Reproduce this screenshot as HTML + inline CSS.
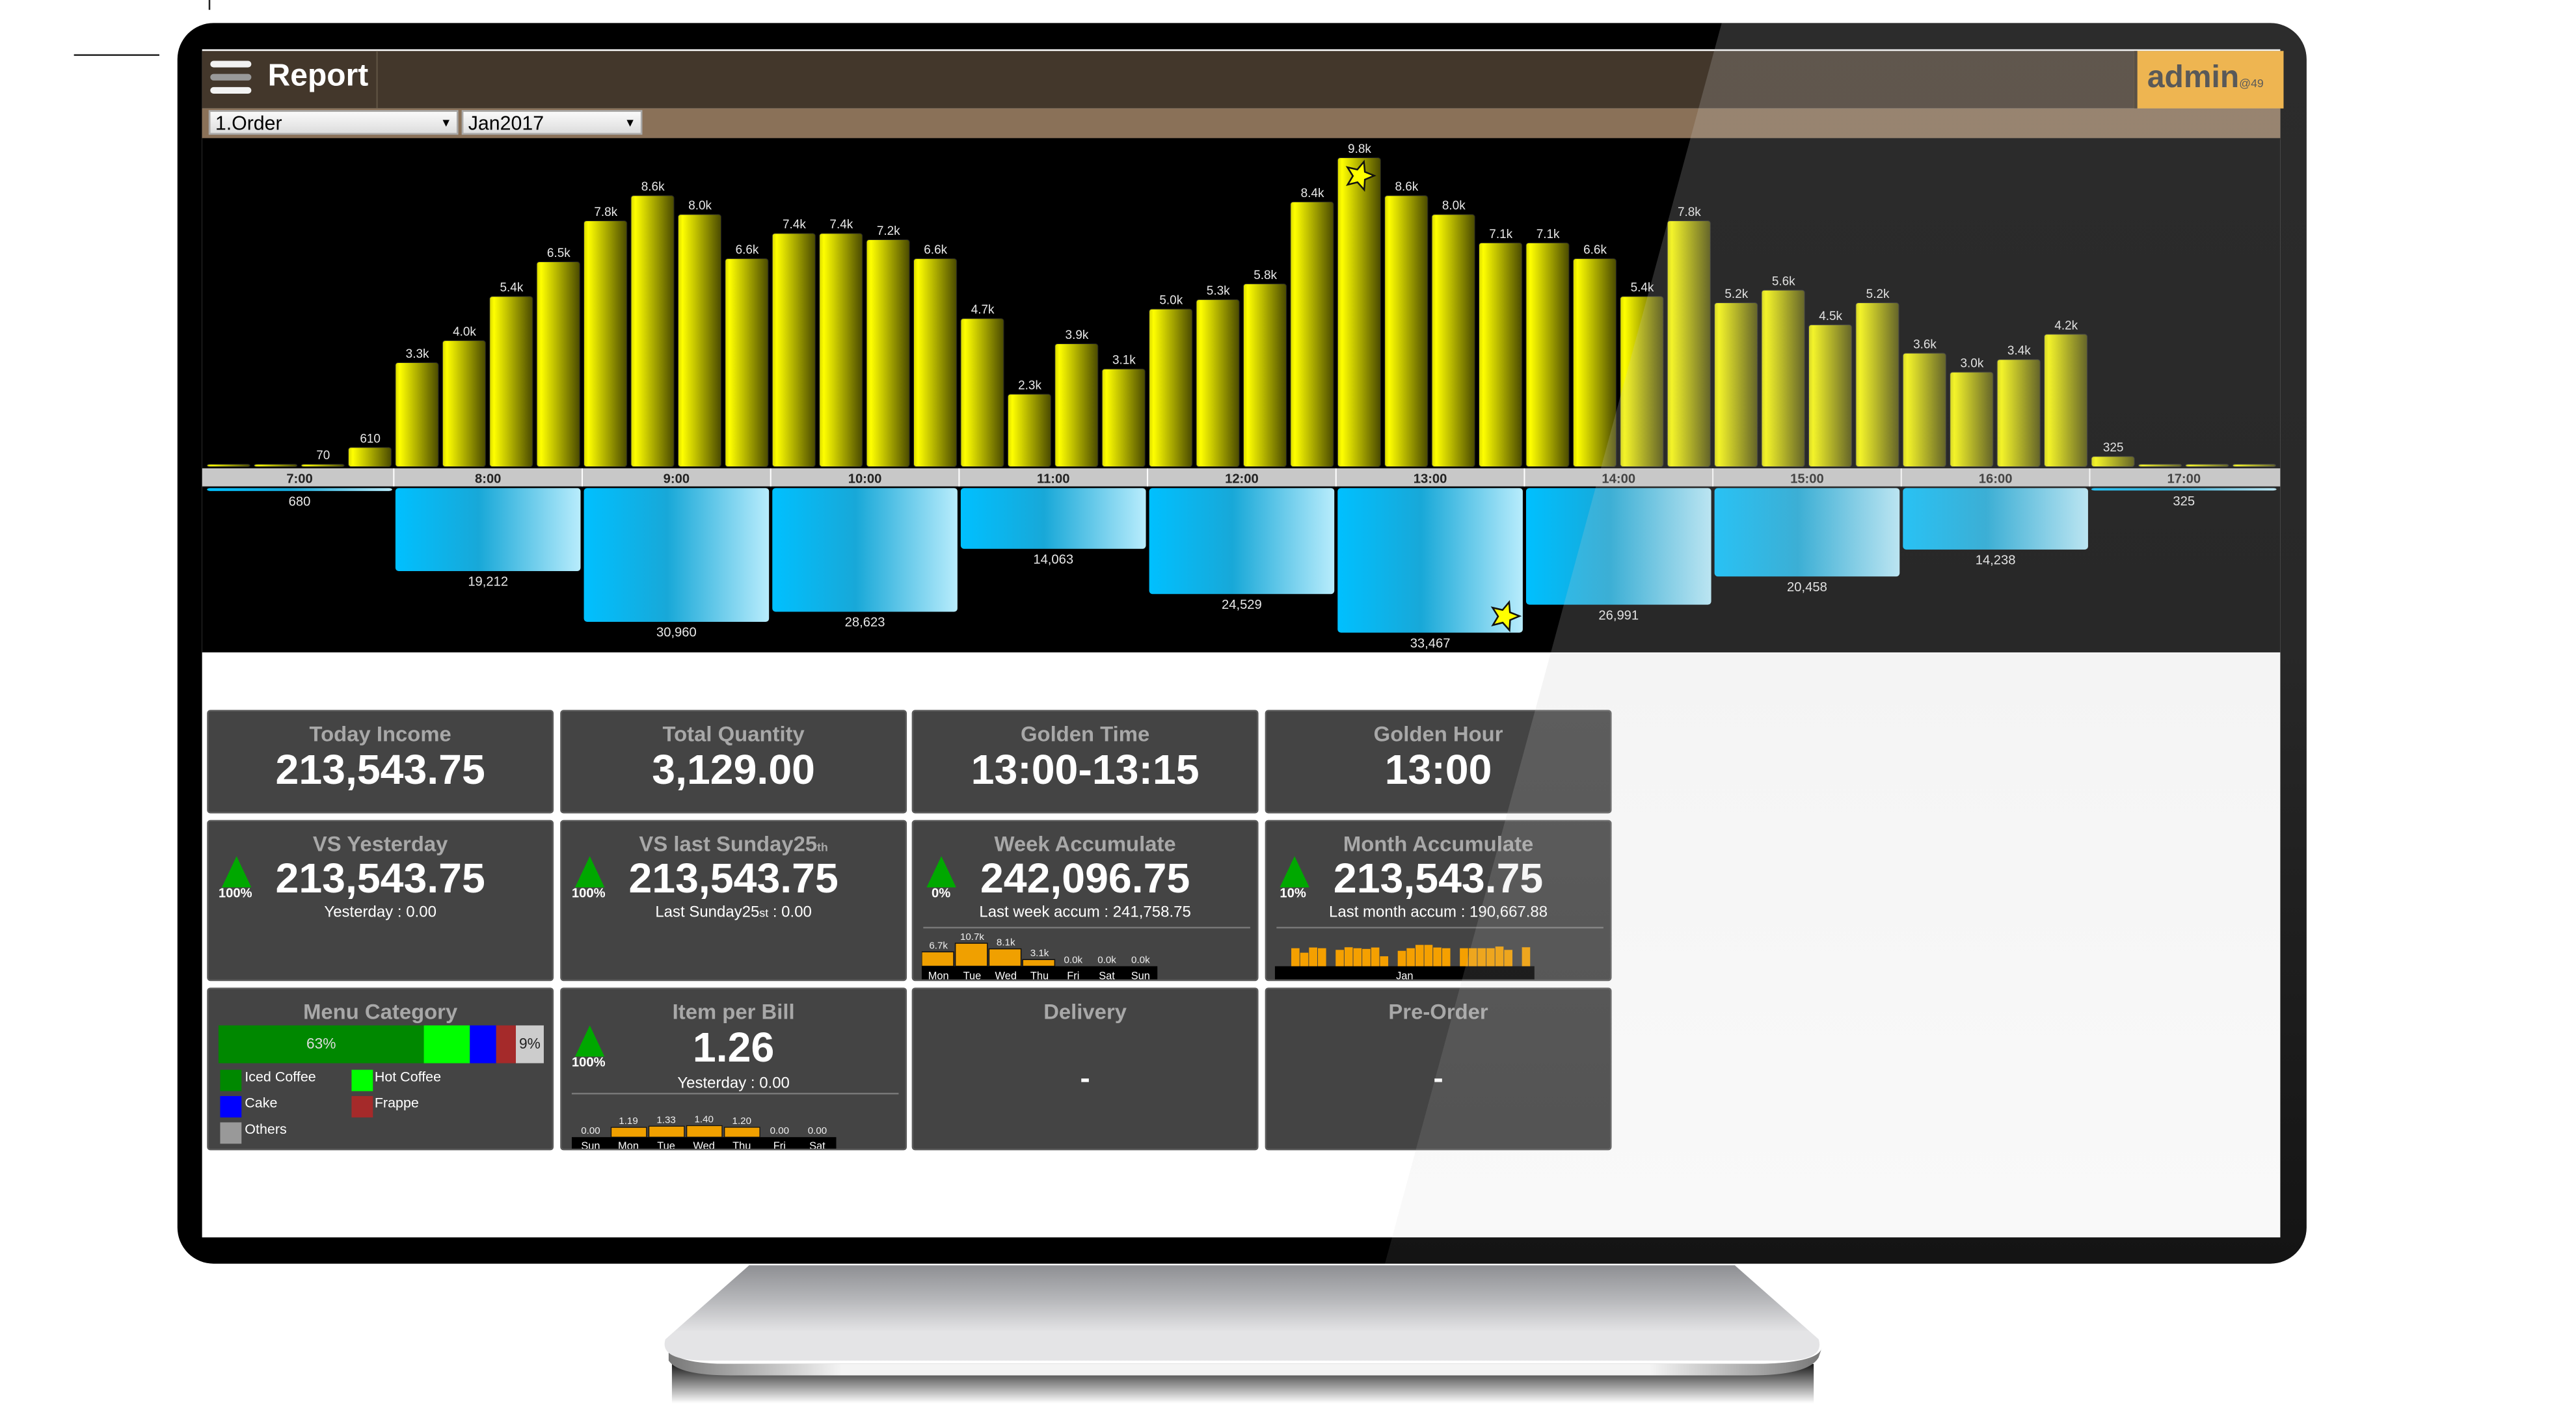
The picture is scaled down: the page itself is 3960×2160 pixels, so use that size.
<!DOCTYPE html>
<html><head><meta charset="utf-8">
<style>
html,body{margin:0;padding:0;background:#fff;width:3960px;height:2160px;overflow:hidden}
#root{position:absolute;left:0;top:0;width:1568px;height:855px;transform:scale(2.52551,2.52632);transform-origin:0 0;font-family:"Liberation Sans",Arial,sans-serif}
.abs{position:absolute}
.card{position:absolute;background:#444;border:1px solid #5a5a5a;border-radius:2px;box-sizing:border-box;color:#fff;text-align:center;overflow:hidden}
.ct{font-weight:bold;color:#a8a8a8;font-size:13px;position:absolute;left:0;right:0}
.cv{font-weight:bold;color:#fff;font-size:25.5px;position:absolute;left:0;right:0}
.tri{position:absolute;width:0;height:0;border-left:9px solid transparent;border-right:9px solid transparent;border-bottom:19px solid #00a800}
.pct{position:absolute;font-size:8px;font-weight:bold;color:#fff}
.sub{position:absolute;left:0;right:0;font-size:9.5px;color:#fff}
.hr{position:absolute;height:1px;background:#777}
</style></head><body>
<div id="root">
  <div class="abs" style="left:45px;top:33px;width:52px;height:1px;background:#222"></div>
  <div class="abs" style="left:127px;top:0;width:1px;height:6px;background:#222"></div>

  <!-- stand -->
  <svg class="abs" style="left:395px;top:760px" width="725" height="95">
    <defs>
      <linearGradient id="sg" x1="0" y1="0" x2="0" y2="1"><stop offset="0" stop-color="#8e8f93"/><stop offset="0.35" stop-color="#b5b6b9"/><stop offset="0.7" stop-color="#e4e4e6"/><stop offset="1" stop-color="#e4e4e6"/></linearGradient>
      <linearGradient id="se" x1="0" y1="0" x2="1" y2="0"><stop offset="0" stop-color="#777"/><stop offset="0.15" stop-color="#f4f4f4"/><stop offset="0.85" stop-color="#f4f4f4"/><stop offset="1" stop-color="#777"/></linearGradient>
      <linearGradient id="sh" x1="0" y1="0" x2="0" y2="1"><stop offset="0" stop-color="#000" stop-opacity="0.9"/><stop offset="1" stop-color="#000" stop-opacity="0"/></linearGradient>
    </defs>
    <rect x="14" y="70" width="695" height="24" fill="url(#sh)"/>
    <path d="M12,60 Q14,70 50,70 L670,70 Q712,70 714,60 L712,66 Q706,77 670,77 L50,77 Q18,77 12,68 Z" fill="url(#se)"/>
    <path d="M61,10 L661,10 L712,55 Q716,68 690,68 L35,68 Q6,68 10,55 Z" fill="url(#sg)"/>
  </svg>

  <!-- bezel -->
  <div class="abs" style="left:108px;top:14px;width:1296px;height:755px;background:#000;border-radius:22px;overflow:hidden">
    <div class="abs" style="left:15px;top:16px;width:1265px;height:723px;background:#fff">
      <!-- header -->
      <div class="abs" style="left:0;top:1px;width:1265px;height:35px;background:#43372b">
        <div class="abs" style="left:5px;top:6px;width:25px;height:4px;background:#f2f2f2;border-radius:2px"></div>
        <div class="abs" style="left:5px;top:14px;width:25px;height:4px;background:#999;border-radius:2px"></div>
        <div class="abs" style="left:5px;top:22px;width:25px;height:4px;background:#f2f2f2;border-radius:2px"></div>
        <div class="abs" style="left:40px;top:5px;font-size:19px;font-weight:bold;color:#fff">Report</div>
        <div class="abs" style="left:106px;top:0;width:1px;height:35px;background:#5c5040"></div>
        <div class="abs" style="left:1176px;top:0;width:89px;height:35px;background:#f8b030;border-left:2px solid #3a2e22"><span style="position:absolute;left:6px;top:6px;font-size:19px;font-weight:bold;color:#3a3a3a">admin<span style="font-size:7px;font-weight:normal">@49</span></span></div>
      </div>
      <div class="abs" style="left:0;top:36px;width:1265px;height:19px;background:#8a7158">
        <div class="abs" style="left:4px;top:1px;height:15px;background:linear-gradient(#fafafa,#ddd);border:1px solid #aaa;font-size:12px;line-height:15px;padding-left:3px;box-sizing:border-box;width:152px">1.Order<span style="position:absolute;right:3px;font-size:7px">▼</span></div>
        <div class="abs" style="left:158px;top:1px;width:110px;height:15px;background:linear-gradient(#fafafa,#ddd);border:1px solid #aaa;font-size:12px;line-height:15px;padding-left:3px;box-sizing:border-box">Jan2017<span style="position:absolute;right:3px;font-size:7px">▼</span></div>
      </div>
      <svg id="chart" class="abs" style="left:0;top:54px" width="1265" height="313">
        <defs>
          <linearGradient id="yg" x1="0" y1="0" x2="1" y2="0"><stop offset="0" stop-color="#d8d800"/><stop offset="0.1" stop-color="#ffff00"/><stop offset="1" stop-color="#4a4a00"/></linearGradient>
          <linearGradient id="bg" x1="0" y1="0" x2="1" y2="0"><stop offset="0" stop-color="#00c0ff"/><stop offset="0.45" stop-color="#18a8d8"/><stop offset="1" stop-color="#b8ecfc"/></linearGradient>
        </defs>
        <rect x="0" y="0" width="1265" height="313" fill="#000"/>
        <g id="gy"></g><g id="gx"></g><g id="gb"></g>
      </svg>
      <!-- cards -->
      <div class="card" style="left:3px;top:402px;width:211px;height:63px"><div class="ct" style="top:6px">Today Income</div><div class="cv" style="top:22px">213,543.75</div></div>
      <div class="card" style="left:218px;top:402px;width:211px;height:63px"><div class="ct" style="top:6px">Total Quantity</div><div class="cv" style="top:22px">3,129.00</div></div>
      <div class="card" style="left:432px;top:402px;width:211px;height:63px"><div class="ct" style="top:6px">Golden Time</div><div class="cv" style="top:22px">13:00-13:15</div></div>
      <div class="card" style="left:647px;top:402px;width:211px;height:63px"><div class="ct" style="top:6px">Golden Hour</div><div class="cv" style="top:22px">13:00</div></div>

      <div class="card" style="left:3px;top:469px;width:211px;height:98px"><div class="ct" style="top:6px">VS Yesterday</div><div class="tri" style="left:8px;top:21px"></div><div class="pct" style="left:6px;top:39px">100%</div><div class="cv" style="top:21px">213,543.75</div><div class="sub" style="top:50px">Yesterday : 0.00</div></div>
      <div class="card" style="left:218px;top:469px;width:211px;height:98px"><div class="ct" style="top:6px">VS last Sunday25<span style="font-size:7px">th</span></div><div class="tri" style="left:8px;top:21px"></div><div class="pct" style="left:6px;top:39px">100%</div><div class="cv" style="top:21px">213,543.75</div><div class="sub" style="top:50px">Last Sunday25<span style="font-size:7px">st</span> : 0.00</div></div>
      <div class="card" style="left:432px;top:469px;width:211px;height:98px"><div class="ct" style="top:6px">Week Accumulate</div><div class="tri" style="left:8px;top:21px"></div><div class="pct" style="left:11px;top:39px">0%</div><div class="cv" style="top:21px">242,096.75</div><div class="sub" style="top:50px">Last week accum : 241,758.75</div><div class="hr" style="left:6px;width:199px;top:64px"></div>
        <svg id="week" class="abs" style="left:5px;top:68px" width="170" height="30"></svg></div>
      <div class="card" style="left:647px;top:469px;width:211px;height:98px"><div class="ct" style="top:6px">Month Accumulate</div><div class="tri" style="left:8px;top:21px"></div><div class="pct" style="left:8px;top:39px">10%</div><div class="cv" style="top:21px">213,543.75</div><div class="sub" style="top:50px">Last month accum : 190,667.88</div><div class="hr" style="left:6px;width:199px;top:64px"></div>
        <svg id="month" class="abs" style="left:5px;top:68px" width="200" height="30"></svg></div>

      <div class="card" style="left:3px;top:571px;width:211px;height:99px"><div class="ct" style="top:6px">Menu Category</div>
        <div class="abs" style="left:6px;top:22px;width:198px;height:23px;display:flex">
          <div style="width:125px;background:#008800;color:#ddd;font-size:9px;line-height:23px">63%</div>
          <div style="width:28px;background:#00ff00"></div>
          <div style="width:16px;background:#0000ff"></div>
          <div style="width:12px;background:#a52a2a"></div>
          <div style="width:17px;background:#ccc;color:#222;font-size:9px;line-height:23px">9%</div>
        </div>
        <div class="abs" style="left:7px;top:49px;width:13px;height:13px;background:#008800"></div><div class="abs" style="left:22px;top:48px;font-size:8.5px">Iced Coffee</div>
        <div class="abs" style="left:87px;top:49px;width:13px;height:13px;background:#00ff00"></div><div class="abs" style="left:101px;top:48px;font-size:8.5px">Hot Coffee</div>
        <div class="abs" style="left:7px;top:65px;width:13px;height:13px;background:#0000ff"></div><div class="abs" style="left:22px;top:64px;font-size:8.5px">Cake</div>
        <div class="abs" style="left:87px;top:65px;width:13px;height:13px;background:#a52a2a"></div><div class="abs" style="left:101px;top:64px;font-size:8.5px">Frappe</div>
        <div class="abs" style="left:7px;top:81px;width:13px;height:13px;background:#999"></div><div class="abs" style="left:22px;top:80px;font-size:8.5px">Others</div>
      </div>
      <div class="card" style="left:218px;top:571px;width:211px;height:99px"><div class="ct" style="top:6px">Item per Bill</div><div class="tri" style="left:8px;top:22px"></div><div class="pct" style="left:6px;top:40px">100%</div><div class="cv" style="top:22px">1.26</div><div class="sub" style="top:52px">Yesterday : 0.00</div><div class="hr" style="left:6px;width:199px;top:63px"></div>
        <svg id="ipb" class="abs" style="left:6px;top:76px" width="170" height="23"></svg></div>
      <div class="card" style="left:432px;top:571px;width:211px;height:99px"><div class="ct" style="top:6px">Delivery</div><div class="cv" style="top:44px;font-size:18px">-</div></div>
      <div class="card" style="left:647px;top:571px;width:211px;height:99px"><div class="ct" style="top:6px">Pre-Order</div><div class="cv" style="top:44px;font-size:18px">-</div></div>
    </div>
    <svg class="abs" style="left:0;top:0;pointer-events:none" width="1296" height="755">
      <defs><linearGradient id="gl" x1="0" y1="0" x2="0" y2="1"><stop offset="0" stop-color="rgb(200,200,200)" stop-opacity="0.22"/><stop offset="0.5" stop-color="rgb(200,200,200)" stop-opacity="0.2"/><stop offset="1" stop-color="rgb(200,200,200)" stop-opacity="0.1"/></linearGradient></defs>
      <polygon points="940,0 1296,0 1296,755 735,755" fill="url(#gl)"/></svg>
  </div>
</div>
<script>
const NS="http://www.w3.org/2000/svg";
// quarter-hour order counts
const quarterValues=[15,15,70,610, 3300,4000,5400,6500, 7800,8600,8000,6600, 7400,7400,7200,6600, 4700,2300,3900,3100, 5000,5300,5800,8400, 9800,8600,8000,7100, 7100,6600,5400,7800, 5200,5600,4500,5200, 3600,3000,3400,4200, 325,15,15,15];
const quarterLabels=["","","70","610","3.3k","4.0k","5.4k","6.5k","7.8k","8.6k","8.0k","6.6k","7.4k","7.4k","7.2k","6.6k","4.7k","2.3k","3.9k","3.1k","5.0k","5.3k","5.8k","8.4k","9.8k","8.6k","8.0k","7.1k","7.1k","6.6k","5.4k","7.8k","5.2k","5.6k","4.5k","5.2k","3.6k","3.0k","3.4k","4.2k","325","","",""];
const hours=["7:00","8:00","9:00","10:00","11:00","12:00","13:00","14:00","15:00","16:00","17:00"];
const hourTotals=[680,19212,30960,28623,14063,24529,33467,26991,20458,14238,325];
const hourLabels=["680","19,212","30,960","28,623","14,063","24,529","33,467","26,991","20,458","14,238","325"];
const weekDays=["Mon","Tue","Wed","Thu","Fri","Sat","Sun"];
const weekValues=[6700,10700,8100,3100,0,0,0];
const weekLabels=["6.7k","10.7k","8.1k","3.1k","0.0k","0.0k","0.0k"];
const monthValues=[7.6,5.7,7.9,7.6,null,6.9,8.0,7.6,7.3,7.9,4.2,null,6.5,7.6,9.0,9.0,7.9,7.6,null,7.6,7.6,7.6,7.6,8.3,6.9,null,8.0];
const ipbDays=["Sun","Mon","Tue","Wed","Thu","Fri","Sat"];
const ipbValues=[0,1.19,1.33,1.40,1.20,0,0];

function el(tag,attrs,parent,text){const e=document.createElementNS(NS,tag);for(const k in attrs)e.setAttribute(k,attrs[k]);if(text!==undefined)e.textContent=text;parent.appendChild(e);return e;}
const X0=2,SEC=114.7,SLOT=SEC/4,BASE=200,YK=188/9800,BTOP=213,BK=88/33467;
const xq=i=>X0+i*SLOT, yv=v=>BASE-Math.max(1.5,v*YK), bh=v=>Math.max(1.5,v*BK);
const gy=document.getElementById('gy'),gx=document.getElementById('gx'),gb=document.getElementById('gb');
quarterValues.forEach((v,i)=>{
  const r=el('rect',{x:xq(i)+1,y:yv(v),width:SLOT-2.5,height:BASE-yv(v),rx:1.5,fill:'url(#yg)',stroke:'#222','stroke-width':0.4},gy);
  
  
  if(quarterLabels[i]){const t=el('text',{x:xq(i)+SLOT/2,y:yv(v)-3,'font-size':7.5,fill:'#e8e8e8','text-anchor':'middle'},gy,quarterLabels[i]);
  
  }
});
let qmax=quarterValues.indexOf(Math.max(...quarterValues));
function star(cx,cy,r,parent){let p=[];for(let k=0;k<10;k++){const a=-Math.PI/2+k*Math.PI/5+0.3,rr=k%2?r*0.45:r;p.push((cx+rr*Math.cos(a)).toFixed(1)+','+(cy+rr*Math.sin(a)).toFixed(1));}const s=el('polygon',{points:p.join(' '),fill:'#ffff00',stroke:'#111','stroke-width':1},parent);

}
star(xq(qmax)+SLOT/2,yv(quarterValues[qmax])+11,9,gy);
el('rect',{x:0,y:BASE+1,width:1265,height:11,fill:'#c8c8c8'},gx);
hours.forEach((h,i)=>{
  const x=X0+i*SEC;
  if(i>0)el('line',{x1:x,y1:BASE+1,x2:x,y2:BASE+12,stroke:'#fff','stroke-width':0.8},gx);
  const t=el('text',{x:x+SEC/2,y:BASE+10,'font-size':8,'font-weight':'bold',fill:'#222','text-anchor':'middle'},gx,h);
  
  
  const v=hourTotals[i];
  const r=el('rect',{x:x+1,y:BTOP,width:SEC-2,height:bh(v),rx:2,fill:'url(#bg)'},gb);
  
  
  const l=el('text',{x:x+SEC/2,y:BTOP+bh(v)+9,'font-size':8,fill:'#e8e8e8','text-anchor':'middle'},gb,hourLabels[i]);
  
  
});
let hmax=hourTotals.indexOf(Math.max(...hourTotals));
star(X0+hmax*SEC+SEC-12,BTOP+bh(hourTotals[hmax])-10,9,gb);

const W=document.getElementById('week');const WS=20.5,WK=14/10700;
weekValues.forEach((v,i)=>{const x=i*WS,h=v*WK;
  if(h>0){const r=el('rect',{x:x,y:20-h,width:WS-1,height:h,fill:'#f0a000',stroke:'#111','stroke-width':0.6},W);
  
  }
  el('text',{x:x+WS/2,y:20-h-2,'font-size':6,fill:'#eee','text-anchor':'middle'},W,weekLabels[i]);
});
el('rect',{x:0,y:20,width:WS*7,height:10,fill:'#000'},W);
weekDays.forEach((d,i)=>el('text',{x:i*WS+WS/2,y:28,'font-size':6.5,fill:'#fff','text-anchor':'middle'},W,d));

const M=document.getElementById('month');const MS=5.4,MK=13/9;
el('rect',{x:0,y:20,width:158,height:10,fill:'#000'},M);
monthValues.forEach((v,i)=>{if(v===null)return;const h=v*MK;
  const r=el('rect',{x:10+i*MS,y:20-h,width:MS-0.4,height:h,fill:'#f5a000'},M);
  
  });
el('text',{x:79,y:28,'font-size':6.5,fill:'#fff','text-anchor':'middle'},M,'Jan');

const P=document.getElementById('ipb');const PS=23,PK=7/1.4;
el('rect',{x:0,y:14,width:PS*7,height:9,fill:'#000'},P);
ipbValues.forEach((v,i)=>{const x=i*PS,h=v*PK;
  if(h>0){const r=el('rect',{x:x+1,y:14-h,width:PS-1.5,height:h,fill:'#f0a000',stroke:'#111','stroke-width':0.5},P);
  
  }
  el('text',{x:x+PS/2,y:14-h-2,'font-size':6,fill:'#eee','text-anchor':'middle'},P,v.toFixed(2));
  el('text',{x:x+PS/2,y:21.5,'font-size':6.5,fill:'#fff','text-anchor':'middle'},P,ipbDays[i]);
});
</script>
</body></html>
